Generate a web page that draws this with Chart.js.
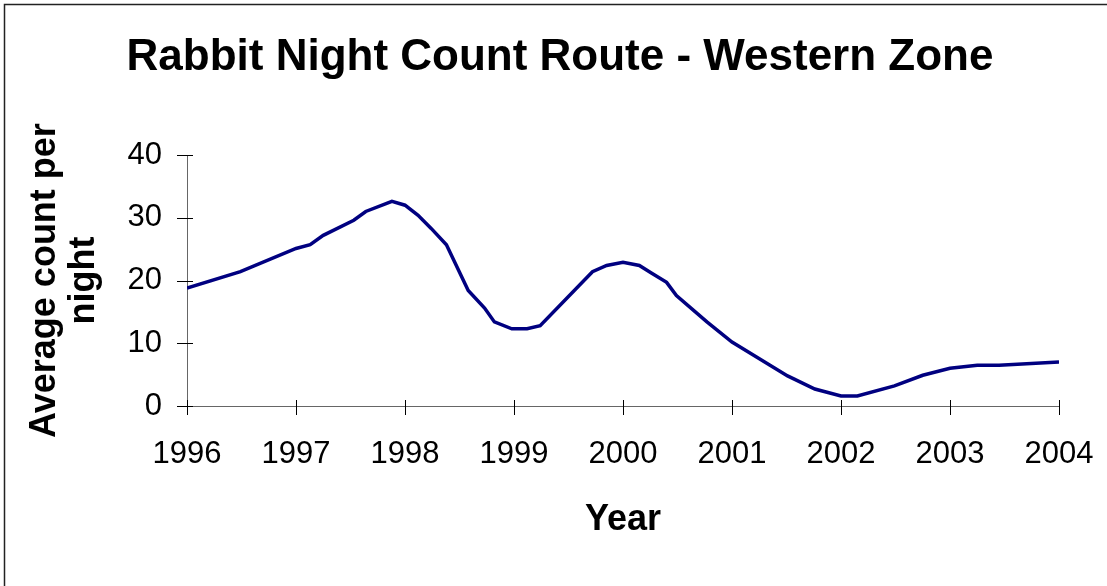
<!DOCTYPE html>
<html>
<head>
<meta charset="utf-8">
<title>Rabbit Night Count Route - Western Zone</title>
<script src="https://cdn.jsdelivr.net/npm/chart.js@4.4.0/dist/chart.umd.min.js"></script>
<style>
  html, body { margin: 0; padding: 0; background: #fff; }
  canvas { display: block; }
</style>
</head>
<body>
<canvas id="graph" width="1107" height="586"></canvas>
<script>
// === DATA ===
const annees = [
  1996.00, 1996.49, 1997.00, 1997.13, 1997.25, 1997.53, 1997.64, 1997.88,
  1998.00, 1998.12, 1998.24, 1998.38, 1998.58, 1998.73, 1998.82, 1998.98,
  1999.12, 1999.24, 1999.72, 1999.85, 2000.00, 2000.15, 2000.26, 2000.40,
  2000.49, 2000.77, 2001.00, 2001.51, 2001.76, 2002.00, 2002.15, 2002.49,
  2002.75, 2003.00, 2003.25, 2003.45, 2004.00
];
const comptages = [
  18.8, 21.4, 25.1, 25.7, 27.2, 29.6, 31.0, 32.6,
  32.0, 30.4, 28.3, 25.7, 18.4, 15.6, 13.4, 12.3,
  12.3, 12.8, 21.4, 22.4, 22.9, 22.4, 21.2, 19.7,
  17.6, 13.4, 10.2, 4.8, 2.7, 1.6, 1.6, 3.2,
  4.9, 6.0, 6.5, 6.5, 7.0
];
const ticksX = [1996, 1997, 1998, 1999, 2000, 2001, 2002, 2003, 2004];
const ticksY = [0, 10, 20, 30, 40];

const police = "'Liberation Sans', Arial, sans-serif";

// === PLUGINS ===
// cadre autour du graphique (coupe a droite et en bas)
const cadre = {
  id: "cadre",
  beforeDraw(chart) {
    const c = chart.ctx;
    c.save();
    c.fillStyle = "#fff";
    c.fillRect(0, 0, chart.width, chart.height);
    c.strokeStyle = "#222";
    c.lineWidth = 1.5;
    c.strokeRect(4.5, 4.5, chart.width + 20, chart.height + 20);
    c.restore();
  }
};

// traits de graduation qui traversent les axes
const graduations = {
  id: "graduations",
  beforeDatasetsDraw(chart) {
    const { ctx, scales: { x, y } } = chart;
    ctx.save();
    ctx.strokeStyle = "#000";
    ctx.lineWidth = 1;
    ctx.beginPath();
    x.ticks.forEach((t, i) => {
      const px = Math.round(x.getPixelForTick(i)) + 0.5;
      ctx.moveTo(px, y.bottom - 6);
      ctx.lineTo(px, y.bottom + 9);
    });
    y.ticks.forEach((t, i) => {
      const py = Math.round(y.getPixelForTick(i)) + 0.5;
      ctx.moveTo(x.left - 10, py);
      ctx.lineTo(x.left + 6, py);
    });
    ctx.stroke();
    ctx.restore();
  }
};

// === GRAPHIQUE ===
const ctx = document.getElementById("graph");
new Chart(ctx, {
  type: "line",
  data: {
    datasets: [{
      label: "Average count per night",
      data: annees.map((a, i) => ({ x: a, y: comptages[i] })),
      borderColor: "#000080",
      borderWidth: 3.5,
      pointRadius: 0,
      tension: 0,
      fill: false
    }]
  },
  options: {
    responsive: false,
    animation: false,
    devicePixelRatio: 1,
    layout: { padding: { top: 0, right: 48, bottom: 0, left: 61 } },
    plugins: {
      legend: { display: false },
      tooltip: { enabled: false },
      title: {
        display: true,
        text: "Rabbit Night Count Route - Western Zone",
        color: "#000",
        font: { family: police, size: 44, weight: "bold", lineHeight: 1.2 },
        padding: { top: 31.1, bottom: 71.1 }
      }
    },
    scales: {
      x: {
        type: "linear",
        min: 1996,
        max: 2004,
        afterBuildTicks: s => { s.ticks = ticksX.map(v => ({ value: v })); },
        afterFit: s => { s.height = 180; },
        grid: { drawOnChartArea: false, tickLength: 30, color: "transparent" },
        border: { color: "#666", width: 1 },
        ticks: {
          color: "#000",
          font: { family: police, size: 31 },
          padding: 0,
          maxRotation: 0,
          autoSkip: false,
          callback: v => String(v)
        },
        title: {
          display: true,
          text: "Year",
          color: "#000",
          font: { family: police, size: 36, weight: "bold", lineHeight: 1.2 },
          padding: { top: 0, bottom: 44 }
        }
      },
      y: {
        min: 0,
        max: 40,
        afterBuildTicks: s => { s.ticks = ticksY.map(v => ({ value: v })); },
        afterFit: s => { s.width = 126; },
        grid: { drawOnChartArea: false, tickLength: 25, color: "transparent" },
        border: { color: "#666", width: 1 },
        ticks: {
          color: "#000",
          font: { family: police, size: 31 },
          padding: 0
        },
        title: {
          display: true,
          text: ["Average count per", "night"],
          color: "#000",
          font: { family: police, size: 36, weight: "bold", lineHeight: 1.1 },
          padding: { top: -36, bottom: 0 }
        }
      }
    }
  },
  plugins: [cadre, graduations]
});
</script>
</body>
</html>
